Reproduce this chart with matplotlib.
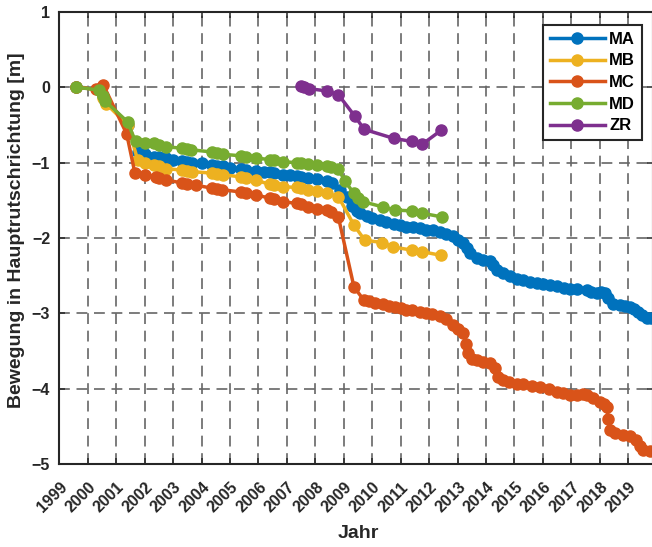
import matplotlib
matplotlib.use('Agg')
import matplotlib.pyplot as plt
from matplotlib.transforms import ScaledTranslation

plt.rcParams['font.family'] = ['Liberation Sans', 'DejaVu Sans']
plt.rcParams['font.weight'] = 'bold'

# Messpunkte (Dezimaljahr, Bewegung in m)
ma_t = [1999.6, 2000.4, 2000.55, 2001.4, 2001.78, 2002.0, 2002.33, 2002.5, 2002.74, 2003.0,
        2003.32, 2003.5, 2003.65, 2004.0, 2004.38, 2004.55, 2004.74, 2005.0, 2005.38, 2005.55,
        2005.9, 2006.2, 2006.4, 2006.55, 2006.87, 2007.1, 2007.35, 2007.5, 2007.75, 2008.05,
        2008.4, 2008.6, 2008.87, 2009.1, 2009.3, 2009.45, 2009.57, 2009.8, 2010.0, 2010.27,
        2010.5, 2010.75, 2010.98, 2011.2, 2011.45, 2011.68, 2011.9, 2012.15, 2012.38, 2012.6,
        2012.85, 2013.0, 2013.2, 2013.32, 2013.44, 2013.67, 2013.9, 2014.14, 2014.25, 2014.37,
        2014.6, 2014.84, 2015.1, 2015.3, 2015.54, 2015.8, 2016.0, 2016.25, 2016.5, 2016.75,
        2016.95, 2017.2, 2017.54, 2017.7, 2017.89, 2018.05, 2018.18, 2018.3, 2018.47, 2018.7,
        2018.9, 2019.06, 2019.2, 2019.35, 2019.5, 2019.65, 2019.8]
ma_v = [0.0, -0.02, -0.12, -0.5, -0.86, -0.88, -0.92, -0.93, -0.94, -0.96,
        -0.98, -0.99, -1.0, -1.01, -1.03, -1.04, -1.05, -1.07, -1.09, -1.1,
        -1.11, -1.12, -1.13, -1.14, -1.16, -1.17, -1.18, -1.19, -1.2, -1.22,
        -1.25, -1.27, -1.36, -1.45, -1.57, -1.64, -1.67, -1.71, -1.74, -1.76,
        -1.79, -1.81, -1.83, -1.85, -1.86, -1.87, -1.89, -1.9, -1.92, -1.95,
        -1.98, -2.02, -2.07, -2.13, -2.2, -2.27, -2.29, -2.31, -2.36, -2.42,
        -2.47, -2.51, -2.54, -2.56, -2.58, -2.6, -2.61, -2.62, -2.64, -2.66,
        -2.67, -2.68, -2.69, -2.71, -2.73, -2.72, -2.73, -2.8, -2.87, -2.89,
        -2.9, -2.91, -2.94, -2.98, -3.02, -3.06, -3.06]

mb_t = [1999.6, 2000.4, 2000.55, 2000.65, 2001.4, 2001.76, 2002.0, 2002.33, 2002.5, 2002.74,
        2003.32, 2003.5, 2003.65, 2004.38, 2004.55, 2004.74, 2005.38, 2005.55, 2005.9, 2006.4,
        2006.55, 2006.87, 2007.35, 2007.5, 2007.75, 2008.05, 2008.4, 2008.81, 2009.36, 2009.74,
        2010.36, 2010.74, 2011.39, 2011.74, 2012.42]
mb_v = [0.0, -0.03, -0.15, -0.22, -0.5, -0.97, -1.0, -1.03, -1.05, -1.08,
        -1.1, -1.11, -1.12, -1.14, -1.15, -1.16, -1.19, -1.21, -1.23, -1.29,
        -1.3, -1.32, -1.33, -1.34, -1.36, -1.38, -1.41, -1.45, -1.83, -2.03,
        -2.06, -2.12, -2.16, -2.18, -2.23]

mc_t = [1999.6, 2000.3, 2000.55, 2001.37, 2001.66, 2002.0, 2002.39, 2002.5, 2002.74, 2003.32,
        2003.5, 2003.8, 2004.38, 2004.55, 2004.73, 2005.38, 2005.55, 2005.9, 2006.4, 2006.55,
        2006.87, 2007.34, 2007.5, 2007.75, 2008.05, 2008.4, 2008.55, 2008.81, 2009.36, 2009.7,
        2009.9, 2010.1, 2010.39, 2010.6, 2010.8, 2011.0, 2011.2, 2011.4, 2011.68, 2011.9,
        2012.1, 2012.38, 2012.6, 2012.85, 2013.0, 2013.2, 2013.3, 2013.38, 2013.5, 2013.67,
        2013.9, 2014.14, 2014.3, 2014.43, 2014.6, 2014.8, 2015.08, 2015.3, 2015.6, 2015.9,
        2016.2, 2016.48, 2016.7, 2016.95, 2017.19, 2017.4, 2017.54, 2017.75, 2018.0, 2018.15,
        2018.24, 2018.3, 2018.36, 2018.55, 2018.82, 2019.05, 2019.29, 2019.4, 2019.53, 2019.76]
mc_v = [0.0, -0.03, 0.03, -0.62, -1.14, -1.16, -1.19, -1.2, -1.23, -1.27,
        -1.28, -1.3, -1.34, -1.35, -1.36, -1.39, -1.41, -1.43, -1.47, -1.48,
        -1.52, -1.54, -1.55, -1.59, -1.61, -1.63, -1.65, -1.72, -2.65, -2.82,
        -2.84, -2.86, -2.88, -2.9, -2.92, -2.93, -2.95, -2.96, -2.98, -3.0,
        -3.01, -3.04, -3.08, -3.15, -3.2, -3.26, -3.4, -3.53, -3.6, -3.62,
        -3.64, -3.66, -3.72, -3.84, -3.88, -3.91, -3.93, -3.94, -3.96, -3.97,
        -4.0, -4.04, -4.06, -4.08, -4.08, -4.07, -4.08, -4.12, -4.17, -4.2,
        -4.24, -4.4, -4.55, -4.59, -4.61, -4.63, -4.68, -4.76, -4.81, -4.83]

md_t = [1999.6, 2000.4, 2000.55, 2000.6, 2001.4, 2001.68, 2002.0, 2002.33, 2002.5, 2002.74,
        2003.32, 2003.5, 2003.62, 2004.38, 2004.55, 2004.74, 2005.38, 2005.55, 2005.9, 2006.4,
        2006.55, 2006.87, 2007.35, 2007.5, 2007.75, 2008.05, 2008.4, 2008.55, 2008.8, 2009.05,
        2009.36, 2009.5, 2009.69, 2010.39, 2010.8, 2011.39, 2011.74, 2012.44]
md_v = [0.0, -0.04, -0.12, -0.18, -0.46, -0.72, -0.74, -0.745, -0.77, -0.79,
        -0.81, -0.825, -0.83, -0.86, -0.87, -0.89, -0.91, -0.92, -0.94, -0.96,
        -0.97, -0.99, -1.0, -1.01, -1.02, -1.03, -1.05, -1.06, -1.08, -1.25,
        -1.41, -1.47, -1.52, -1.59, -1.63, -1.64, -1.67, -1.72]

zr_t = [2007.5, 2007.62, 2007.77, 2008.4, 2008.81, 2009.38, 2009.72, 2010.76, 2011.4, 2011.75, 2012.43]
zr_v = [0.02, 0.0, -0.02, -0.05, -0.1, -0.38, -0.56, -0.68, -0.72, -0.76, -0.57]

labels = ['MA', 'MB', 'MC', 'MD', 'ZR']
colors = ['#0072BD', '#EDB120', '#D95319', '#77AC30', '#7E2F8E']
years = list(range(1999, 2020))

fig = plt.figure(figsize=(6.52, 5.47), dpi=100)
ax = fig.add_axes([0.0909, 0.1512, 0.9106, 0.8274])

series = [(ma_t, ma_v), (mb_t, mb_v), (mc_t, mc_v), (md_t, md_v), (zr_t, zr_v)]
for (t, v), lab, c in zip(series, labels, colors):
    ax.plot(t, v, '-o', color=c, lw=2.5, ms=8, label=lab)

ax.set_xlim(1999, 2019.87)
ax.set_ylim(-5, 1)
ax.set_xticks(years, [str(y) for y in years])
ax.set_yticks(range(-5, 2))

ax.grid(True, color='0.4', lw=1.2, linestyle=(0, (6.5, 4)))
ax.set_axisbelow(True)
ax.tick_params(direction='in', length=4, width=1.1, top=True, right=True,
               labelsize=11.5, colors='#262626')
ax.tick_params(axis='y', pad=6.5)
ax.tick_params(axis='x', pad=11)
for lab in ax.get_xticklabels():
    lab.set_rotation(45)
    lab.set_ha('right')
    lab.set_transform(lab.get_transform() + ScaledTranslation(0.11, 0, fig.dpi_scale_trans))
for s in ax.spines.values():
    s.set_linewidth(1.5)
    s.set_color('#262626')

ax.set_xlabel('Jahr', fontsize=14, fontweight='bold', color='#262626', va='center')
ax.xaxis.set_label_coords(0.503, -0.152)
ax.set_ylabel('Bewegung in Hauptrutschrichtung [m]', fontsize=14, fontweight='bold',
              color='#262626', va='center')
ax.yaxis.set_label_coords(-0.0712, 0.518)

leg = ax.legend(loc='upper right', bbox_to_anchor=(0.981, 0.9706), borderaxespad=0,
                fontsize=12, handlelength=3.3, handletextpad=0.25, labelspacing=0.4,
                borderpad=0.4, fancybox=False, framealpha=1, edgecolor='#262626')
leg.get_frame().set_linewidth(1.5)

fig.savefig('out.png', dpi=100)
